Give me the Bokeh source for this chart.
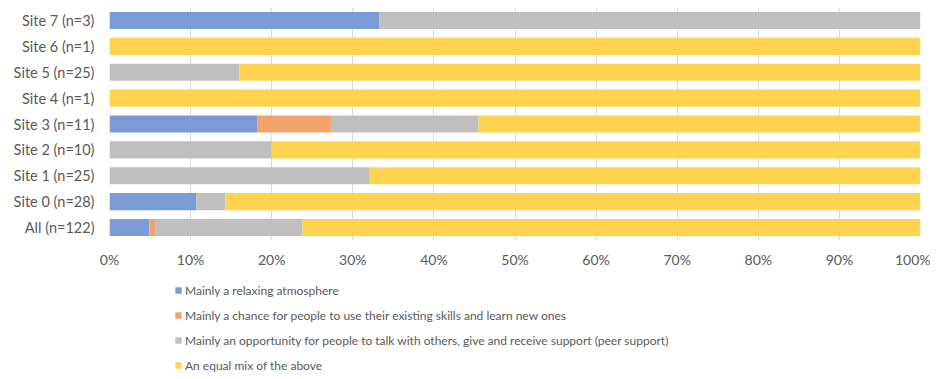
from bokeh.plotting import figure
from bokeh.layouts import column
from bokeh.models import FactorRange, Legend, LegendItem, NumeralTickFormatter, FixedTicker
from bokeh.embed import file_html
from bokeh.resources import INLINE

sites = ["All (n=122)", "Site 0 (n=28)", "Site 1 (n=25)", "Site 2 (n=10)", "Site 3 (n=11)",
         "Site 4 (n=1)", "Site 5 (n=25)", "Site 6 (n=1)", "Site 7 (n=3)"]
relaxing = [0.049, 0.107, 0.0, 0.0, 0.182, 0.0, 0.0, 0.0, 0.333]
skills = [0.008, 0.0, 0.0, 0.0, 0.091, 0.0, 0.0, 0.0, 0.0]
peer = [0.181, 0.036, 0.32, 0.20, 0.182, 0.0, 0.16, 0.0, 0.667]
mix = [0.762, 0.857, 0.68, 0.80, 0.545, 1.0, 0.84, 1.0, 0.0]
series_names = ["Mainly a relaxing atmosphere",
                "Mainly a chance for people to use their existing skills and learn new ones",
                "Mainly an opportunity for people to talk with others, give and receive support (peer support)",
                "An equal mix of the above"]
ticks = [i / 10 for i in range(11)]

colors = ["#7B9BD6", "#F2A26B", "#BFBFBF", "#FFD34F"]
keys = ["relaxing", "skills", "peer", "mix"]
data = dict(site=sites, relaxing=relaxing, skills=skills, peer=peer, mix=mix)

FONT = "Lato"
TXT = "#595959"

p = figure(width=930, height=278, frame_width=811, frame_height=233,
           y_range=FactorRange(*sites, range_padding=0),
           x_range=(0, 1), output_backend="svg", toolbar_location=None,
           min_border_left=109, min_border_right=10, min_border_top=7, min_border_bottom=38)
p.outline_line_color = None
p.background_fill_color = "white"

p.hbar_stack(keys, y="site", height=0.66, color=colors, source=data, line_color=None)

p.xaxis.ticker = FixedTicker(ticks=ticks)
p.xaxis.formatter = NumeralTickFormatter(format="0%")
p.xaxis.axis_line_color = None
p.xaxis.major_tick_line_color = None
p.xaxis.minor_tick_line_color = None
p.xaxis.major_label_standoff = 4
p.xaxis.major_label_text_font = FONT
p.xaxis.major_label_text_font_size = "14px"
p.xaxis.major_label_text_color = TXT

p.yaxis.axis_line_color = None
p.yaxis.major_tick_line_color = None
p.yaxis.minor_tick_line_color = None
p.yaxis.major_label_standoff = 9
p.yaxis.major_label_text_font = FONT
p.yaxis.major_label_text_font_size = "14.5px"
p.yaxis.major_label_text_color = TXT

p.ygrid.grid_line_color = None
p.xgrid.grid_line_color = "#D9D9D9"
p.xgrid.grid_line_width = 1

# legend panel (separate figure, same frame alignment)
lg = figure(width=930, height=100, frame_width=811, frame_height=100,
            x_range=(0, 1), y_range=(0, 1), output_backend="svg", toolbar_location=None,
            min_border_left=109, min_border_right=10, min_border_top=0, min_border_bottom=0)
lg.axis.visible = False
lg.grid.grid_line_color = None
lg.outline_line_color = None
proxies = [lg.hbar(y=[0.5], left=[0], right=[0], height=0.01, fill_color=c, line_color=None)
           for c in colors]
items = [LegendItem(label=n, renderers=[r]) for n, r in zip(series_names, proxies)]
legend = Legend(items=items, orientation="vertical", location=(65, 3),
                label_text_font=FONT, label_text_font_size="12px", label_text_color=TXT,
                glyph_width=8, glyph_height=8, label_height=20, spacing=5,
                label_standoff=3, padding=0, margin=0, border_line_color=None,
                background_fill_alpha=0)
lg.add_layout(legend)

layout = column(p, lg, spacing=0)
open("out.html", "w").write(file_html(layout, INLINE))
